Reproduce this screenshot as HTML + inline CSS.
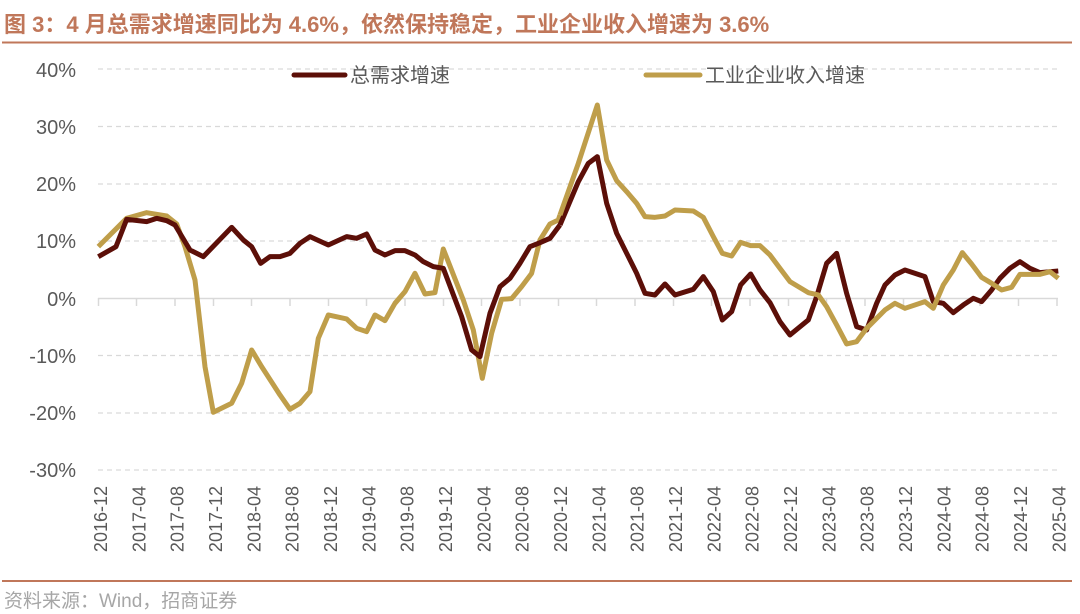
<!DOCTYPE html>
<html><head><meta charset="utf-8"><style>
body{margin:0;background:#fff;width:1080px;height:614px;overflow:hidden}
svg{display:block}
text{font-family:"Liberation Sans","Noto Sans CJK SC",sans-serif}
</style></head><body>
<svg width="1080" height="614" viewBox="0 0 1080 614">
<text x="4" y="32" font-size="22" font-weight="bold" fill="#c0775a">图 3：4 月总需求增速同比为 4.6%，依然保持稳定，工业企业收入增速为 3.6%</text>
<line x1="2" y1="42.5" x2="1072" y2="42.5" stroke="#c0775a" stroke-width="2"/>
<g stroke="#d9d9d9" stroke-width="1.3" stroke-dasharray="5,4">
<line x1="98" x2="1058" y1="69" y2="69"/><line x1="98" x2="1058" y1="126.5" y2="126.5"/>
<line x1="98" x2="1058" y1="184" y2="184"/><line x1="98" x2="1058" y1="241" y2="241"/>
<line x1="98" x2="1058" y1="355.5" y2="355.5"/><line x1="98" x2="1058" y1="413" y2="413"/>
<line x1="98" x2="1058" y1="470" y2="470"/>
</g>
<line x1="98" x2="1058" y1="298.5" y2="298.5" stroke="#d9d9d9" stroke-width="1.5"/>
<g stroke="#d9d9d9" stroke-width="1.5">
<path d="M98.5 298v8M136.5 298v8M175 298v8M213.5 298v8M251.5 298v8M290 298v8M328.5 298v8M366.5 298v8M405 298v8M443.5 298v8M481.5 298v8M520 298v8M558.5 298v8M596.5 298v8M635 298v8M673.5 298v8M711.5 298v8M750 298v8M788.5 298v8M826.5 298v8M865 298v8M903.5 298v8M941.5 298v8M980 298v8M1018.5 298v8M1057 298v8"/>
</g>
<g font-size="20" fill="#595959" text-anchor="end">
<text x="76" y="77">40%</text><text x="76" y="134">30%</text><text x="76" y="191">20%</text>
<text x="76" y="248">10%</text><text x="76" y="306">0%</text><text x="76" y="363">-10%</text>
<text x="76" y="420">-20%</text><text x="76" y="477">-30%</text>
</g>
<g font-size="18" fill="#595959" text-anchor="end">
<text transform="translate(107,486) rotate(-90)">2016-12</text>
<text transform="translate(145.3,486) rotate(-90)">2017-04</text>
<text transform="translate(183.6,486) rotate(-90)">2017-08</text>
<text transform="translate(222,486) rotate(-90)">2017-12</text>
<text transform="translate(260.3,486) rotate(-90)">2018-04</text>
<text transform="translate(298.6,486) rotate(-90)">2018-08</text>
<text transform="translate(337,486) rotate(-90)">2018-12</text>
<text transform="translate(375.3,486) rotate(-90)">2019-04</text>
<text transform="translate(413.6,486) rotate(-90)">2019-08</text>
<text transform="translate(452,486) rotate(-90)">2019-12</text>
<text transform="translate(490.3,486) rotate(-90)">2020-04</text>
<text transform="translate(528.6,486) rotate(-90)">2020-08</text>
<text transform="translate(567,486) rotate(-90)">2020-12</text>
<text transform="translate(605.3,486) rotate(-90)">2021-04</text>
<text transform="translate(643.6,486) rotate(-90)">2021-08</text>
<text transform="translate(682,486) rotate(-90)">2021-12</text>
<text transform="translate(720.3,486) rotate(-90)">2022-04</text>
<text transform="translate(758.6,486) rotate(-90)">2022-08</text>
<text transform="translate(797,486) rotate(-90)">2022-12</text>
<text transform="translate(835.3,486) rotate(-90)">2023-04</text>
<text transform="translate(873.6,486) rotate(-90)">2023-08</text>
<text transform="translate(912,486) rotate(-90)">2023-12</text>
<text transform="translate(950.3,486) rotate(-90)">2024-04</text>
<text transform="translate(988.6,486) rotate(-90)">2024-08</text>
<text transform="translate(1027,486) rotate(-90)">2024-12</text>
<text transform="translate(1065.3,486) rotate(-90)">2025-04</text>
</g>
<line x1="294" y1="75" x2="345" y2="75" stroke="#5c0f08" stroke-width="5" stroke-linecap="round"/>
<text x="350" y="82" font-size="20" fill="#595959">总需求增速</text>
<line x1="646" y1="75" x2="700" y2="75" stroke="#bf9e4a" stroke-width="5" stroke-linecap="round"/>
<text x="705" y="82" font-size="20" fill="#595959">工业企业收入增速</text>
<g fill="none" stroke-width="15" stroke-linejoin="round">
<g transform="translate(80,100) scale(0.3333)">
<polyline stroke="#bf9e4a" points="55,440 140,355 200,338 260,348 290,372 315,440 345,540 375,800 400,937 455,910 485,850 515,750 545,800 600,885 630,928 660,910 690,875 715,715 745,645 800,657 830,685 860,695 885,645 915,662 945,610 975,575 1005,520 1035,582 1065,578 1090,447 1150,600 1180,690 1207,835 1235,700 1265,598 1295,596 1325,560 1355,520 1380,420 1410,372 1435,360 1440,345"/>
<polyline stroke="#5c0f08" points="55,470 108,440 140,358 200,365 230,355 260,362 285,375 330,450 370,470 455,382 490,420 515,440 542,490 570,470 600,470 630,460 660,430 690,410 745,435 800,410 830,415 860,402 885,450 915,465 945,452 975,452 1005,465 1030,485 1060,500 1090,505 1145,650 1175,750 1200,770 1230,640 1260,560 1290,535 1320,490 1350,440 1380,428 1410,415 1440,375"/>
</g>
<g transform="translate(560,90) scale(0.3333)">
<polyline stroke="#5c0f08" points="0,405 55,275 85,220 112,200 140,340 170,430 200,490 230,550 255,610 285,615 315,582 345,615 400,598 430,560 460,605 487,690 515,665 542,585 572,552 600,600 630,638 660,695 690,735 745,690 770,620 800,520 830,490 860,610 890,710 920,720 950,640 975,585 1005,555 1035,540 1095,560 1120,635 1150,640 1180,668 1210,645 1240,625 1265,635 1295,600 1320,565 1350,535 1380,515 1410,535 1440,548 1495,543"/>
<polyline stroke="#bf9e4a" points="0,375 55,220 112,45 140,210 170,272 200,305 230,340 255,380 285,382 315,378 345,360 400,363 430,382 460,440 487,490 515,498 542,457 572,467 600,467 630,495 660,535 690,575 745,608 775,615 800,650 830,705 860,762 890,755 920,715 950,685 975,660 1005,640 1035,655 1095,635 1120,655 1150,585 1180,540 1207,488 1235,522 1265,562 1295,580 1325,600 1355,592 1380,553 1440,553 1470,545 1495,565"/>
</g>
</g>
<line x1="2" y1="581" x2="1072" y2="581" stroke="#c0775a" stroke-width="2"/>
<text x="4" y="607" font-size="19" fill="#a6a6a6">资料来源：Wind，招商证券</text>
</svg>
</body></html>
